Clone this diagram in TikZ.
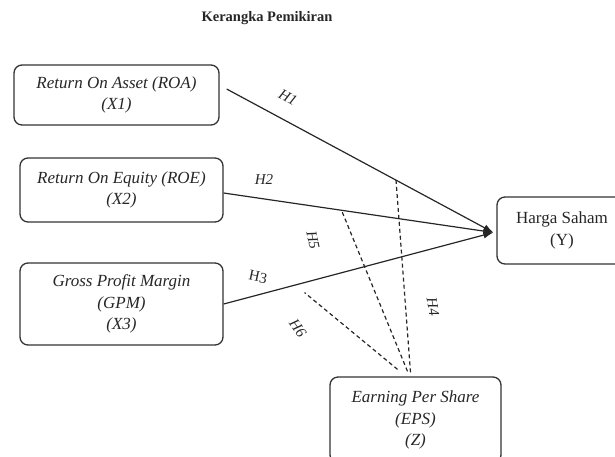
\documentclass[tikz,border=0pt]{standalone}
\usepackage{fontspec}
\setmainfont{Liberation Serif}
\usetikzlibrary{arrows.meta}

\tikzset{
  varbox/.style={draw=black!80, line width=1.3pt, rounded corners=8pt, align=center,
    inner sep=0pt, text=black!85, font=\itshape\fontsize{17}{21.5}\selectfont},
  link/.style={line width=1.2pt, draw=black!85},
  dashlink/.style={line width=1.2pt, draw=black!85, dash pattern=on 4pt off 3pt},
  hlabel/.style={text=black!85, font=\itshape\fontsize{15}{16}\selectfont}
}

\begin{document}
\begin{tikzpicture}[x=1pt, y=-1pt]
    \clip (0,0) rectangle (615,456);
    \useasboundingbox (0,0) rectangle (615,456);

    % Title
    \node[text=black!85, font=\bfseries\fontsize{14.5}{16}\selectfont] (title) at (267,18) {Kerangka Pemikiran};

    % Variables
    \node[varbox, minimum width=205pt, minimum height=60pt] (roa) at (116.5,95) {Return On Asset (ROA)\\(X1)};
    \node[varbox, minimum width=203pt, minimum height=64pt] (roe) at (121.5,190) {Return On Equity (ROE)\\(X2)};
    \node[varbox, minimum width=203pt, minimum height=82pt] (gpm) at (121.5,304) {Gross Profit Margin\\(GPM)\\(X3)};
    \node[varbox, font=\upshape\fontsize{17}{21.5}\selectfont, minimum width=130pt, minimum height=67pt] (harga) at (562,230.5) {Harga Saham\\(Y)};
    \node[varbox, minimum width=171pt, minimum height=86pt] (eps) at (415.5,420) {Earning Per Share\\(EPS)\\(Z)};

    % Direct effects
    \coordinate (tip) at ([xshift=-3pt, yshift=-2pt]harga.west);
    \draw[link, -{Latex[length=10pt, width=7pt]}] ([xshift=7pt, yshift=6pt]roa.east) -- (tip) coordinate[pos=0.635] (onroa);
    \draw[link, -{Latex[length=10pt, width=7pt]}] ([yshift=-3pt]roe.east) -- (tip) coordinate[pos=0.437] (onroe);
    \draw[link, -{Latex[length=10pt, width=7pt]}] (gpm.east) -- (tip) coordinate[pos=0.30] (ongpm);

    % Moderation
    \draw[dashlink] ([xshift=-5pt, yshift=4pt]eps.north) -- (onroa);
    \draw[dashlink] ([xshift=-8pt, yshift=5pt]eps.north) -- (onroe);
    \draw[dashlink] ([xshift=-18pt, yshift=7pt]eps.north) -- ([yshift=-10pt]ongpm);

    % Hypotheses
    \node[hlabel, rotate=-28] (h1) at (288,97) {H1};
    \node[hlabel] (h2) at (264,180) {H2};
    \node[hlabel, rotate=-12, font=\upshape\fontsize{15}{16}\selectfont] (h3) at (258,277) {H3};
    \node[hlabel, rotate=-80] (h4) at (433,307) {H4};
    \node[hlabel, rotate=-78] (h5) at (313,240) {H5};
    \node[hlabel, rotate=-55] (h6) at (298,328) {H6};
\end{tikzpicture}
\end{document}
